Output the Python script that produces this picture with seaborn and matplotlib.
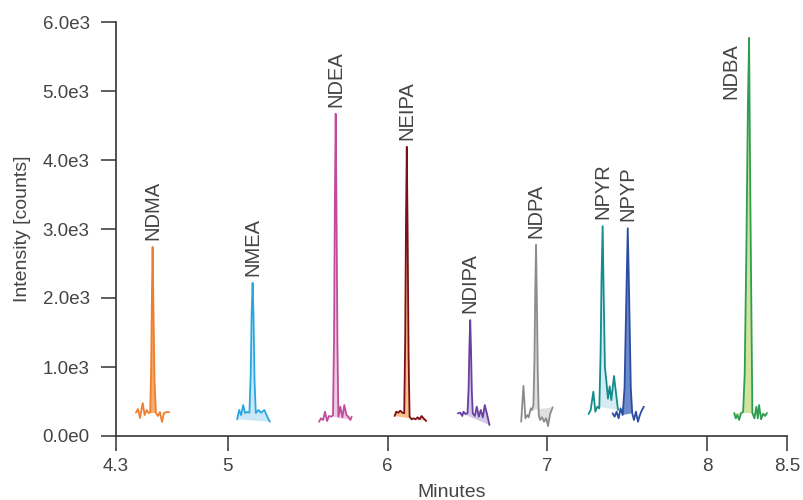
import numpy as np
import pandas as pd
import matplotlib
matplotlib.use("Agg")
import matplotlib.pyplot as plt
import seaborn as sns

# compounds, in elution order
compounds = ["NDMA", "NMEA", "NDEA", "NEIPA", "NDIPA", "NDPA", "NPYR", "NPYP", "NDBA"]

# retention time (min) and intensity (counts) per trace
ndma_t = [4.425, 4.4375, 4.45, 4.467, 4.479, 4.492, 4.504, 4.514, 4.52, 4.525, 4.529, 4.534, 4.541, 4.55, 4.5625, 4.575, 4.5875, 4.6, 4.62, 4.633]
ndma_c = [338, 391, 261, 478, 304, 377, 333, 340, 1000, 2100, 2740, 1900, 800, 333, 290, 348, 203, 333, 348, 345]

nmea_t = [5.058, 5.071, 5.083, 5.096, 5.108, 5.121, 5.135, 5.143, 5.149, 5.155, 5.161, 5.167, 5.175, 5.192, 5.208, 5.229, 5.242, 5.2625]
nmea_c = [242, 377, 304, 449, 333, 348, 340, 900, 1800, 2220, 1700, 800, 333, 377, 338, 377, 304, 207]

ndea_t = [5.571, 5.583, 5.596, 5.608, 5.621, 5.633, 5.646, 5.658, 5.665, 5.67, 5.675, 5.68, 5.686, 5.692, 5.704, 5.717, 5.729, 5.742, 5.754, 5.767, 5.775]
ndea_c = [207, 256, 232, 352, 217, 290, 280, 300, 1500, 3500, 4670, 3300, 1300, 280, 425, 271, 449, 304, 280, 232, 280]

neipa_t = [6.044, 6.054, 6.067, 6.079, 6.092, 6.104, 6.11, 6.115, 6.12, 6.125, 6.131, 6.1375, 6.15, 6.1625, 6.175, 6.1875, 6.2, 6.2125, 6.225, 6.242]
neipa_c = [290, 352, 338, 367, 338, 330, 1400, 3100, 4190, 3000, 1200, 280, 242, 256, 242, 271, 242, 290, 256, 217]

ndipa_t = [6.44, 6.454, 6.467, 6.475, 6.4875, 6.5, 6.507, 6.512, 6.517, 6.522, 6.527, 6.533, 6.546, 6.558, 6.571, 6.583, 6.596, 6.608, 6.621, 6.6375]
ndipa_c = [328, 338, 290, 352, 319, 330, 700, 1300, 1680, 1250, 650, 328, 290, 425, 280, 377, 271, 449, 328, 159]

ndpa_t = [6.836, 6.85, 6.8625, 6.875, 6.883, 6.896, 6.904, 6.9125, 6.919, 6.924, 6.929, 6.934, 6.94, 6.946, 6.954, 6.967, 6.979, 6.992, 7.004, 7.017, 7.033]
ndpa_c = [207, 725, 256, 304, 271, 401, 377, 449, 1100, 2100, 2770, 2000, 900, 304, 232, 271, 207, 256, 145, 319, 416]

npyr_t = [7.258, 7.271, 7.2875, 7.3, 7.3125, 7.325, 7.333, 7.339, 7.346, 7.352, 7.36, 7.369, 7.379, 7.39, 7.4, 7.417, 7.442]
npyr_c = [319, 377, 642, 352, 425, 401, 1200, 2300, 3040, 2100, 1000, 800, 540, 720, 520, 870, 377]

npyp_t = [7.408, 7.421, 7.433, 7.446, 7.458, 7.471, 7.483, 7.494, 7.503, 7.512, 7.522, 7.531, 7.542, 7.554, 7.567, 7.579, 7.592, 7.604]
npyp_c = [329, 280, 352, 256, 401, 304, 700, 2000, 3010, 2000, 700, 329, 232, 352, 207, 304, 377, 425]

ndba_t = [8.169, 8.179, 8.189, 8.2, 8.2125, 8.225, 8.235, 8.246, 8.255, 8.2625, 8.27, 8.283, 8.296, 8.308, 8.317, 8.325, 8.3375, 8.35, 8.3625, 8.375]
ndba_c = [333, 256, 304, 232, 333, 348, 900, 2800, 4800, 5770, 3500, 333, 256, 425, 256, 449, 242, 319, 290, 333]

# integration window per peak (min)
int_start = [4.504, 5.058, 5.633, 6.044, 6.454, 6.904, 7.3125, 7.471, 8.169]
int_end = [4.55, 5.2625, 5.767, 6.242, 6.6375, 7.033, 7.442, 7.531, 8.375]

line_colors = ["#ee7f2d", "#2aa7df", "#c04d9c", "#7b0f19", "#6a3fa0", "#8c8c8c", "#138c8c", "#2b4ea2", "#2f9e55"]
fill_colors = ["#f6ad70", "#c8e7f8", "#eccbe2", "#f9c28a", "#d2c9e8", "#e0e0e0", "#d5edf2", "#6f8acb", "#d0e49b"]

x_ticks = [4.3, 5, 6, 7, 8, 8.5]
x_tick_labels = ["4.3", "5", "6", "7", "8", "8.5"]
y_ticks = [0, 1000, 2000, 3000, 4000, 5000, 6000]
y_tick_labels = ["0.0e0", "1.0e3", "2.0e3", "3.0e3", "4.0e3", "5.0e3", "6.0e3"]

traces = [(ndma_t, ndma_c), (nmea_t, nmea_c), (ndea_t, ndea_c), (neipa_t, neipa_c),
          (ndipa_t, ndipa_c), (ndpa_t, ndpa_c), (npyr_t, npyr_c), (npyp_t, npyp_c),
          (ndba_t, ndba_c)]

rows = []
for name, (t, c) in zip(compounds, traces):
    for ti, ci in zip(t, c):
        rows.append({"Minutes": ti, "Intensity": ci, "compound": name})
df = pd.DataFrame(rows)

sns.set_style("ticks")
plt.rcParams['font.family'] = ['Liberation Sans', 'DejaVu Sans']
text_col = "#444444"
axis_col = "#333333"

fig = plt.figure(figsize=(8.04, 5.0), dpi=100)
ax = fig.add_axes([0.1443, 0.128, 0.8346, 0.828])

# shaded integrated areas
for i, (t, c) in enumerate(traces):
    t = np.array(t)
    c = np.array(c)
    m = (t >= int_start[i] - 1e-9) & (t <= int_end[i] + 1e-9)
    ax.fill(t[m], c[m], color=fill_colors[i], lw=0, zorder=1.5)

sns.lineplot(
    data=df,
    x="Minutes",
    y="Intensity",
    hue="compound",
    palette=dict(zip(compounds, line_colors)),
    estimator=None,
    sort=False,
    legend=False,
    lw=1.3,
    ax=ax,
)

# peak labels
for i, (t, c) in enumerate(traces):
    k = int(np.argmax(c))
    if compounds[i] == "NDBA":
        ax.annotate(compounds[i], (t[k], c[k]), xytext=(-13, -4), textcoords="offset points",
                    rotation=90, ha="center", va="top", fontsize=14.5, color=text_col)
    else:
        ax.annotate(compounds[i], (t[k], c[k]), xytext=(0, 5), textcoords="offset points",
                    rotation=90, ha="center", va="bottom", fontsize=14.5, color=text_col)

ax.set_xlim(4.3, 8.5)
ax.set_ylim(0, 6000)
ax.set_xticks(x_ticks)
ax.set_xticklabels(x_tick_labels)
ax.set_yticks(y_ticks)
ax.set_yticklabels(y_tick_labels)
ax.set_xlabel("Minutes", fontsize=14, color=text_col, labelpad=6)
ax.set_ylabel("Intensity [counts]", fontsize=14, color=text_col, labelpad=8)

sns.despine(ax=ax)
for s in ["left", "bottom"]:
    ax.spines[s].set_color(axis_col)
    ax.spines[s].set_linewidth(1.2)
ax.tick_params(axis="both", length=11, width=1.1, color=axis_col, labelcolor=text_col, labelsize=13.5)
ax.tick_params(axis="x", pad=5)
ax.tick_params(axis="y", pad=8)

fig.savefig("out.png", dpi=100)
